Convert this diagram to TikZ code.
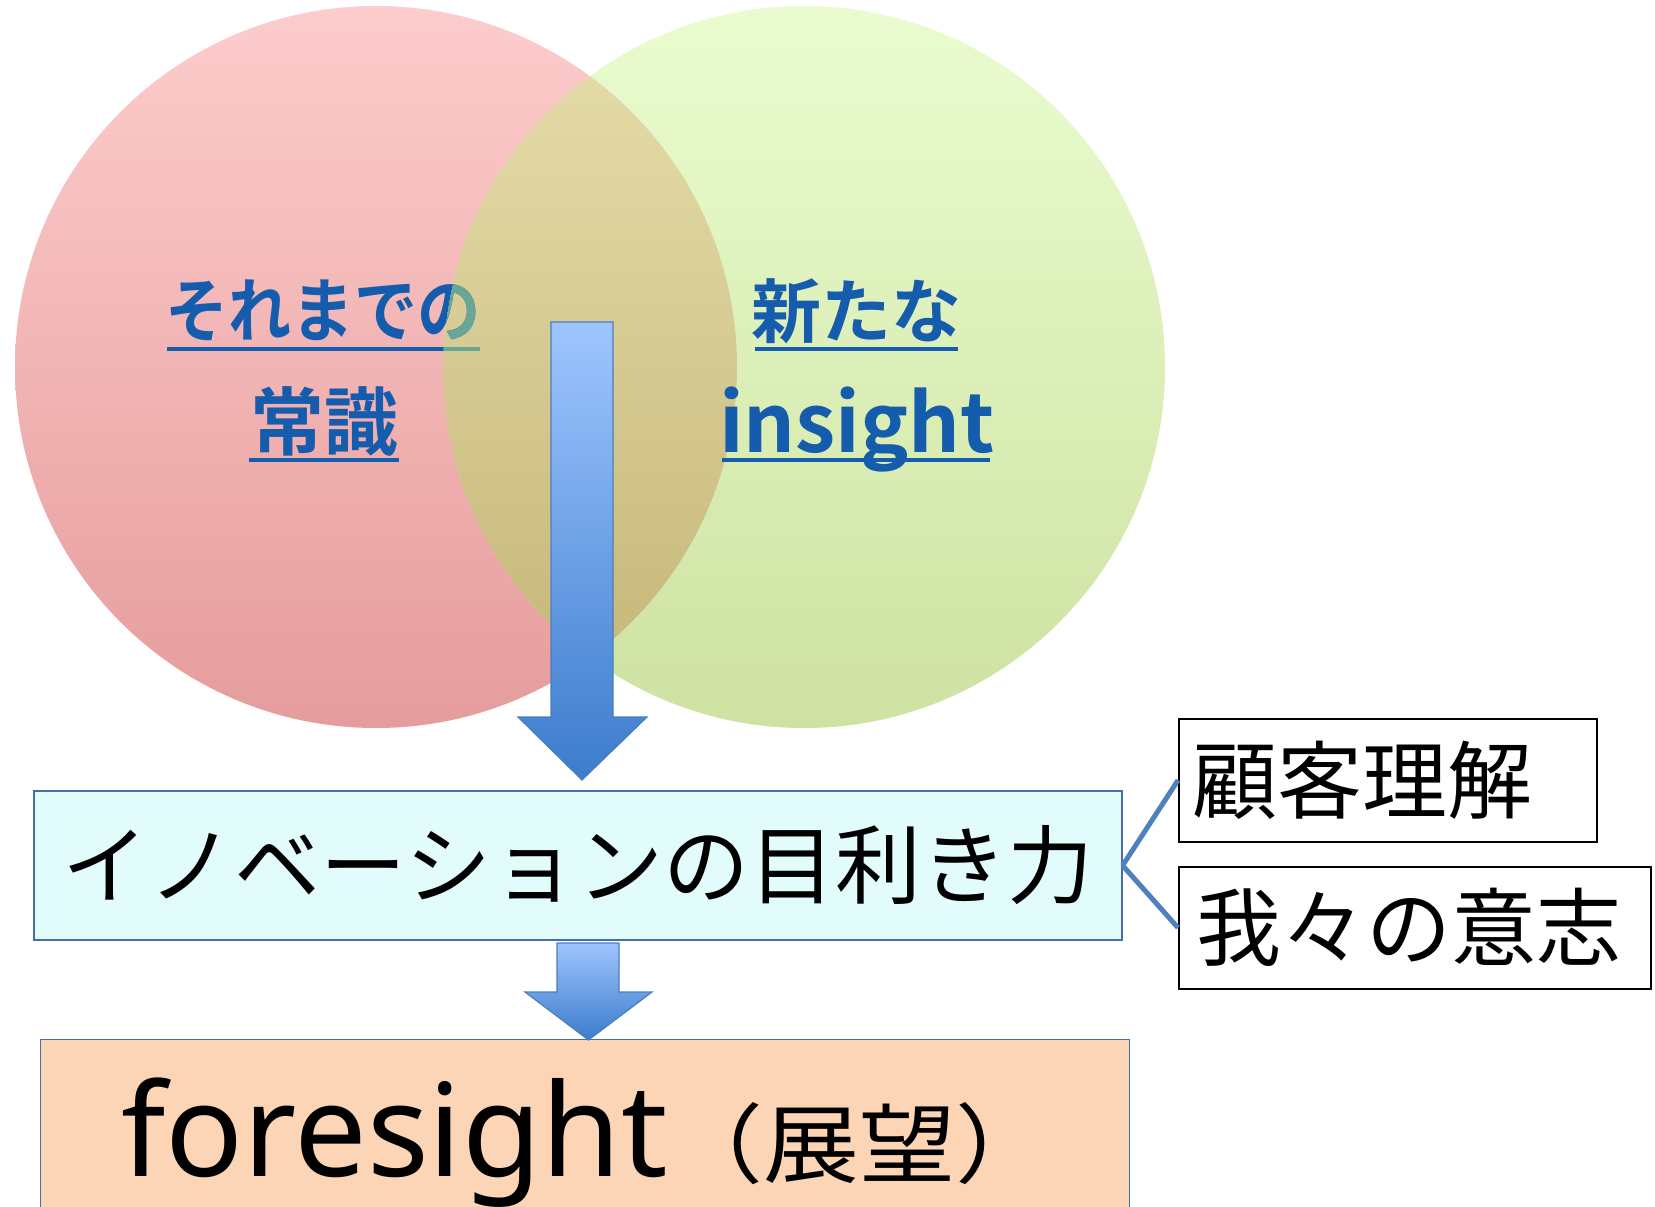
\documentclass[tikz,border=0pt]{standalone}
\usepackage{fontspec}
\newfontfamily\jp{Noto Sans CJK JP}[BoldFont={Noto Sans CJK JP Bold}]
\newfontfamily\lat{Noto Sans}
\definecolor{redtop}{RGB}{253,204,204}
\definecolor{redbot}{RGB}{230,156,156}
\definecolor{grntop}{RGB}{234,252,207}
\definecolor{grnbot}{RGB}{206,226,162}
\definecolor{ovtop}{RGB}{230,222,172}
\definecolor{ovbot}{RGB}{196,181,118}
\definecolor{jblue}{RGB}{22,92,172}
\definecolor{jteal}{RGB}{104,166,152}
\definecolor{arrtop}{RGB}{158,197,255}
\definecolor{arrbot}{RGB}{60,124,204}
\definecolor{arrline}{RGB}{76,126,190}
\definecolor{boxline}{RGB}{70,110,172}
\definecolor{cyanfill}{RGB}{226,252,252}
\definecolor{peach}{RGB}{251,213,181}
\definecolor{connc}{RGB}{79,129,189}
\tikzset{
  bluetxt/.style={inner sep=0pt, text=jblue},
  uline/.style={line width=4pt},
  blockarrow/.style={top color=arrtop, bottom color=arrbot, draw=arrline, line width=1.2pt},
  sidebox/.style={draw=black, fill=white, line width=1.5pt, inner sep=0pt, anchor=north west},
  conn/.style={draw=connc, line width=5pt},
}
\begin{document}
\begin{tikzpicture}[x=1pt,y=-1pt]
\useasboundingbox (0,0) rectangle (1655,1207);
\clip (0,0) rectangle (1655,1207);
\fill[white] (0,0) rectangle (1655,1207);
% Venn circles
\shade[top color=redtop,bottom color=redbot] (376,367) circle [radius=361pt];
\shade[top color=grntop,bottom color=grnbot] (804,367) circle [radius=361pt];
\begin{scope}
  \clip (376,367) circle [radius=361pt];
  \shade[top color=ovtop,bottom color=ovbot] (804,367) circle [radius=361pt];
\end{scope}
% left texts
\node[bluetxt, font=\jp\bfseries\fontsize{70pt}{80pt}\selectfont] (t1) at (323,311) {\scalebox{0.9}[1]{それまでの}};
\node[bluetxt, font=\jp\bfseries\fontsize{74pt}{80pt}\selectfont] (t2) at (324,422) {常識};
\draw[uline, jblue] (167,349) -- (480,349);
\draw[uline, jblue] (249,460) -- (399,460);
\begin{scope}
  \clip (804,367) circle [radius=361pt];
  \node[inner sep=0pt, text=jteal, font=\jp\bfseries\fontsize{70pt}{80pt}\selectfont] at (323,311) {\scalebox{0.9}[1]{それまでの}};
  \draw[uline, jteal] (167,349) -- (480,349);
\end{scope}
% right texts
\node[bluetxt, font=\jp\bfseries\fontsize{70pt}{80pt}\selectfont] (t3) at (856,311) {新たな};
\node[bluetxt, anchor=base, font=\jp\bfseries\fontsize{81pt}{90pt}\selectfont] (t4) at (857,452) {insight};
\draw[uline, jblue] (755,349) -- (958,349);
\draw[uline, jblue] (722,460) -- (990,460);
% main box
\node[draw=boxline, fill=cyanfill, line width=1.2pt, minimum width=1088pt, minimum height=149pt, inner sep=0pt,
      font=\jp\fontsize{86pt}{90pt}\selectfont] (main) at (578,865.5) {イノベーションの目利き力};
% big arrow
\shadedraw[blockarrow] (551,322) -- (613,322) -- (613,717) -- (647,717) -- (582,780) -- (518,717) -- (551,717) -- cycle;
% bottom box
\node[draw=boxline, fill=peach, line width=1.2pt, minimum width=1089pt, minimum height=240pt, inner sep=0pt, anchor=north west] (fs) at (40,1039) {};
\node[anchor=base west, inner sep=0pt] (fst) at (121,1176) {\lat\fontsize{129pt}{140pt}\selectfont foresight\jp\fontsize{96pt}{110pt}\selectfont\scalebox{1}[0.9]{（展望）}};
% small arrow
\shadedraw[blockarrow] (557,943) -- (619,943) -- (619,992) -- (652,992) -- (588.5,1040) -- (525,992) -- (557,992) -- cycle;
% side boxes
\node[sidebox, minimum width=418pt, minimum height=123pt] (ka) at (1178,718) {};
\node[anchor=west, inner sep=0pt, font=\jp\fontsize{85pt}{90pt}\selectfont] (kat) at (1192,780) {顧客理解};
\node[sidebox, minimum width=472pt, minimum height=122pt] (kb) at (1178,866) {};
\node[anchor=west, inner sep=0pt, font=\jp\fontsize{85pt}{90pt}\selectfont] (kbt) at (1196,927) {我々の意志};
% connectors
\draw[conn] (main.east) -- (ka.west);
\draw[conn] (main.east) -- (kb.west);
\end{tikzpicture}
\end{document}
